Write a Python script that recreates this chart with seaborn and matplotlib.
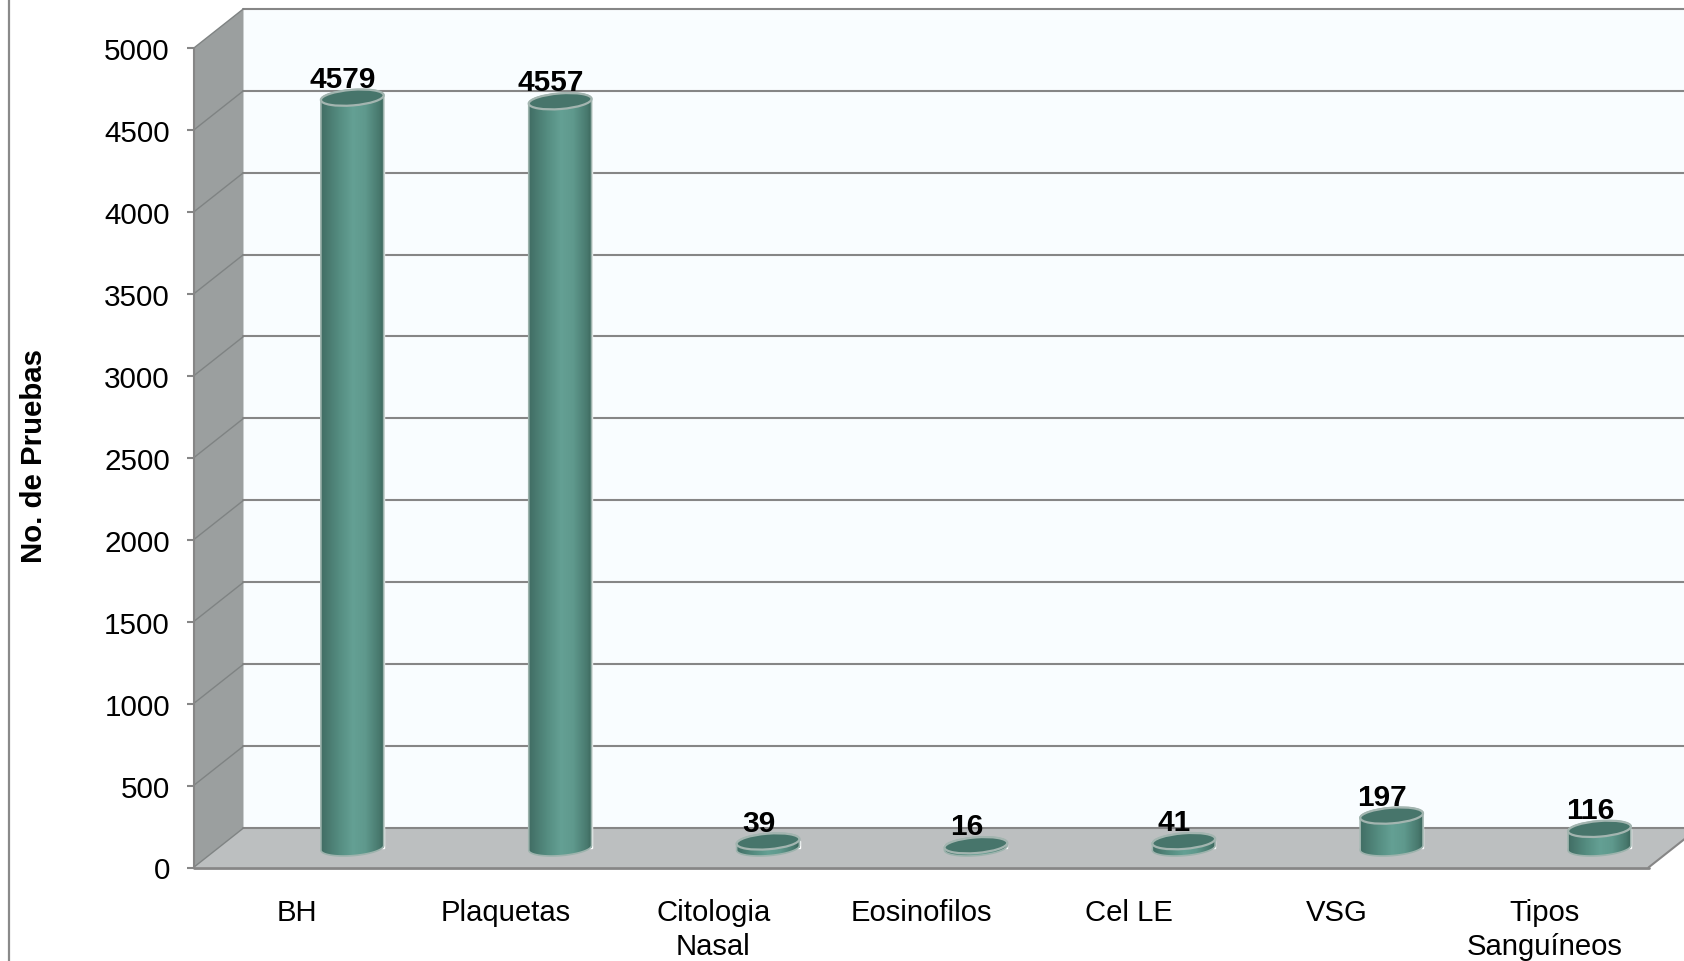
import numpy as np
import pandas as pd
import matplotlib
matplotlib.use("Agg")
import matplotlib.pyplot as plt
import seaborn as sns
from matplotlib.colors import LinearSegmentedColormap
from matplotlib.lines import Line2D
from matplotlib.patches import Ellipse, PathPatch, Polygon
from matplotlib.path import Path
from matplotlib.transforms import Affine2D, IdentityTransform

categories = ["BH", "Plaquetas", "Citologia\nNasal", "Eosinofilos", "Cel LE", "VSG", "Tipos\nSanguíneos"]
pruebas = [4579, 4557, 39, 16, 41, 197, 116]
y_ticks = list(range(0, 5001, 500))

sns.set_theme(style="white")
plt.rcParams["font.family"] = ["Liberation Sans", "DejaVu Sans"]

GRID = "#868686"
fig = plt.figure(figsize=(16.84, 9.62), dpi=100, facecolor="white")
ax = fig.add_axes([193.5 / 1684, 1 - 868.5 / 962, (1648.5 - 193.5) / 1684, (868.5 - 49.3) / 962])
ax.patch.set_alpha(0)

frame = pd.DataFrame({"prueba": categories, "total": pruebas})
sns.barplot(data=frame, x="prueba", y="total", width=0.303, color="#5a9186", saturation=1, ax=ax, zorder=5)
ax.set_xlim(-0.5, 6.5)
ax.set_ylim(0, 5000)

# Depth of the box (back wall relative to the front plane) and of the bars' base
depth_x, depth_y = 0.2405, 241
bar_x, bar_y = 0.264, 120
x_end = 6.5 + depth_x + 0.2

# Walls and floor
ax.add_patch(Polygon([(-0.5 + depth_x, depth_y), (x_end, depth_y), (x_end, 5000 + depth_y), (-0.5 + depth_x, 5000 + depth_y)],
                     fc="#f9fdff", ec="none", clip_on=False, zorder=0))
ax.add_patch(Polygon([(-0.5, 0), (-0.5 + depth_x, depth_y), (-0.5 + depth_x, 5000 + depth_y), (-0.5, 5000)],
                     fc="#9b9f9f", ec="none", clip_on=False, zorder=0))
ax.add_patch(Polygon([(-0.5, 0), (6.5, 0), (6.5 + depth_x, depth_y), (-0.5 + depth_x, depth_y)],
                     fc="#bcbfc0", ec="none", clip_on=False, zorder=1))

# Gridlines run along the side wall and across the back wall
for v in y_ticks:
    ax.plot([-0.5 + depth_x, x_end], [v + depth_y] * 2, color=GRID, lw=1.5, clip_on=False, zorder=2)
    ax.plot([-0.5, -0.5 + depth_x], [v, v + depth_y], color="#7f8383", lw=1.0, clip_on=False, zorder=2)
ax.plot([-0.5, 6.5], [0, 0], color=GRID, lw=2.0, clip_on=False, zorder=3)
ax.plot([-0.5, -0.5], [0, 5000], color=GRID, lw=1.5, clip_on=False, zorder=3)
ax.plot([6.5, 6.5 + depth_x], [0, depth_y], color=GRID, lw=1.5, clip_on=False, zorder=3)

for side in ax.spines.values():
    side.set_visible(False)
ax.set_xlabel("")
ax.set_ylabel("No. de Pruebas", fontsize=21.2, fontweight="bold", color="black", labelpad=40.5, y=0.504)
ax.set_yticks(y_ticks)
ax.tick_params(axis="y", length=5, width=1.5, color=GRID, pad=12, labelsize=21.3, labelcolor="black", left=True)
ax.tick_params(axis="x", length=0, pad=22.3, labelsize=21.1, labelcolor="black")
ax.set_xticks(range(len(categories)))
ax.set_xticklabels(categories, linespacing=1.25)

# Cylinder shading: dark edges with a broad lighter band just right of the axis
cyl = LinearSegmentedColormap.from_list("cyl", [(0, "#3f6a61"), (0.3, "#558d81"), (0.5, "#64a094"), (0.68, "#5f998d"), (0.88, "#497a6f"), (1, "#345a51")])
shade = np.linspace(0, 1, 256).reshape(1, -1)

half_w, half_h, tilt = 31.5, 7.8, np.deg2rad(4.5)


def rim(cx, cy, start, stop):
    """Points of a tilted ellipse, in figure pixels, between two angles."""
    t = np.linspace(start, stop, 61)
    x, y = half_w * np.cos(t), half_h * np.sin(t)
    return np.column_stack([cx + x * np.cos(tilt) - y * np.sin(tilt), cy + x * np.sin(tilt) + y * np.cos(tilt)])


shift = Affine2D().translate(*(ax.transData.transform((bar_x, bar_y)) - ax.transData.transform((0, 0))))
for i, (bar, value) in enumerate(zip(ax.patches, pruebas)):
    bar.set_transform(ax.transData + shift)
    cx, base = ax.transData.transform((i + bar_x, bar_y))
    _, top = ax.transData.transform((i + bar_x, value + bar_y))

    outline = np.vstack([rim(cx, base, np.pi, 2 * np.pi), rim(cx, top, 0, np.pi)])
    body = Path(np.vstack([outline, outline[0]]), closed=True)
    patch = PathPatch(body, transform=IdentityTransform(), fc="none", ec="#9db3ad", lw=1.2, zorder=7, clip_on=False)
    ax.add_patch(patch)
    left = i + bar_x - 0.303 / 2 - 0.01
    right = i + bar_x + 0.303 / 2 + 0.01
    img = ax.imshow(shade, cmap=cyl, aspect="auto", extent=(left, right, 0, min(value + bar_y + 100, 5000)),
                    zorder=6, interpolation="bilinear")
    img.set_clip_path(PathPatch(body, transform=IdentityTransform()))

    ax.add_patch(Ellipse((cx, top), 2 * half_w, 2 * half_h, angle=np.rad2deg(tilt), transform=IdentityTransform(),
                         fc="#47756b", ec="#a3b5b0", lw=1.6, zorder=8, clip_on=False))
    ax.annotate(f"{value}", (i + bar_x, value + bar_y), xytext=(-6.8, 13.6), textcoords="offset points",
                ha="center", va="center", fontsize=21.5, fontweight="bold", color="black", zorder=9, annotation_clip=False)

ax.set_xlim(-0.5, 6.5)
ax.set_ylim(0, 5000)
ax.set_aspect("auto")

# Outer chart border, visible on the left
fig.add_artist(Line2D([8.5 / 1684, 8.5 / 1684], [0, 1], color="#8a8a8a", lw=1.6))

fig.savefig("out.png", dpi=100, facecolor="white")
